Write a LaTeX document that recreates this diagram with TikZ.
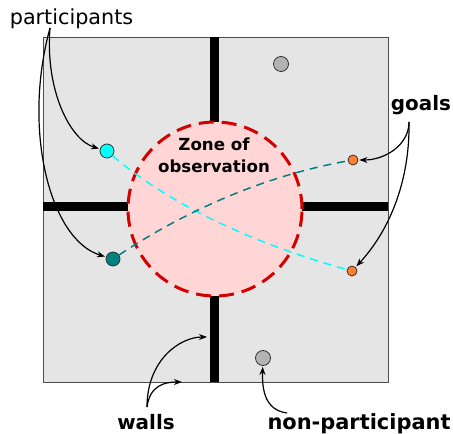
\documentclass[tikz,border=0pt]{standalone}
\usepackage{fontspec}
\setmainfont{DejaVu Sans}
\usetikzlibrary{arrows.meta}
\definecolor{boxgray}{HTML}{E5E5E5}
\definecolor{zonepink}{HTML}{FFD5D5}
\definecolor{zonered}{HTML}{D40000}
\definecolor{partcyan}{HTML}{00FFFF}
\definecolor{partteal}{HTML}{008080}
\definecolor{goalorange}{HTML}{FF7F2A}
\definecolor{npgray}{HTML}{B3B3B3}
\tikzset{
  wall/.style={line width=9bp},
  dot/.style={circle, draw=black!80, line width=0.8bp, inner sep=0pt, minimum size=#1},
  lbl/.style={font=\fontsize{20}{24}\selectfont\bfseries, anchor=base, inner sep=0pt},
  pointer/.style={-{Stealth[length=8bp,width=6bp]}, line width=1.2bp, shorten >=1bp},
  track/.style={line width=1.5bp, dash pattern=on 8bp off 6bp}
}
\begin{document}
\begin{tikzpicture}[x=1bp,y=-1bp]
\useasboundingbox (0,0) rectangle (453,434);
% room
\node[draw=black!70, fill=boxgray, line width=1bp, minimum width=345bp, minimum height=345bp, inner sep=0pt, anchor=north west] (room) at (43,37) {};
% walls
\draw[wall] (214,37) -- (214,125);
\draw[wall] (214,293) -- (214,382);
\draw[wall] (43,207) -- (130,207);
\draw[wall] (299,207) -- (388,207);
% zone
\node[circle, fill=zonepink, draw=zonered, line width=3bp, dash pattern=on 15bp off 8bp, minimum size=174bp, inner sep=0pt] (zone) at (215,209) {};
\node[font=\fontsize{16.7}{23}\selectfont\bfseries, align=center, anchor=base, inner sep=0pt] (ztext) at (214,173) {Zone of\\observation};
% dots
\node[dot=14bp, fill=partcyan] (cy) at (107,151) {};
\node[dot=14bp, fill=partteal] (te) at (113,259) {};
\node[dot=10bp, fill=goalorange] (g1) at (353,160) {};
\node[dot=10bp, fill=goalorange] (g2) at (352,271) {};
\node[dot=15bp, fill=npgray] (n1) at (281,64) {};
\node[dot=15bp, fill=npgray] (n2) at (263,358) {};
% tracks
\draw[track, draw=partcyan] (cy) .. controls (167,202.3) and (248.7,242.3) .. (g2);
\draw[track, draw=partteal] (te) .. controls (190.3,207.7) and (269.7,174.7) .. (g1);
% labels
\node[font=\fontsize{20.8}{24}\selectfont, anchor=base, inner sep=0pt] (lp) at (71.5,25) {participants};
\node[lbl] (lg) at (421,111) {goals};
\node[lbl] (lw) at (146,429) {walls};
\node[lbl, font=\fontsize{21}{24}\selectfont\bfseries] (ln) at (359,429) {non-participant};
% label anchors
\coordinate (pa) at (50,28);
\coordinate (ga) at (409,122);
\coordinate (wa) at (147,407);
\coordinate (na) at (287,413);
\coordinate (wt) at (208,337);
\coordinate (wb) at (183,382);
% pointers
\draw[pointer] (pa) .. controls (45,90) and (70,140) .. (cy);
\draw[pointer] (pa) .. controls (22,130) and (50,240) .. (te);
\draw[pointer] (ga) .. controls (409,145) and (385,160) .. (g1);
\draw[pointer] (ga) .. controls (410,180) and (390,230) .. (g2);
\draw[pointer] (wa) .. controls (147,360) and (180,337) .. (wt);
\draw[pointer] (wa) .. controls (150,385) and (165,382) .. (wb);
\draw[pointer] (na) .. controls (265,410) and (262,390) .. (n2);
\end{tikzpicture}
\end{document}
